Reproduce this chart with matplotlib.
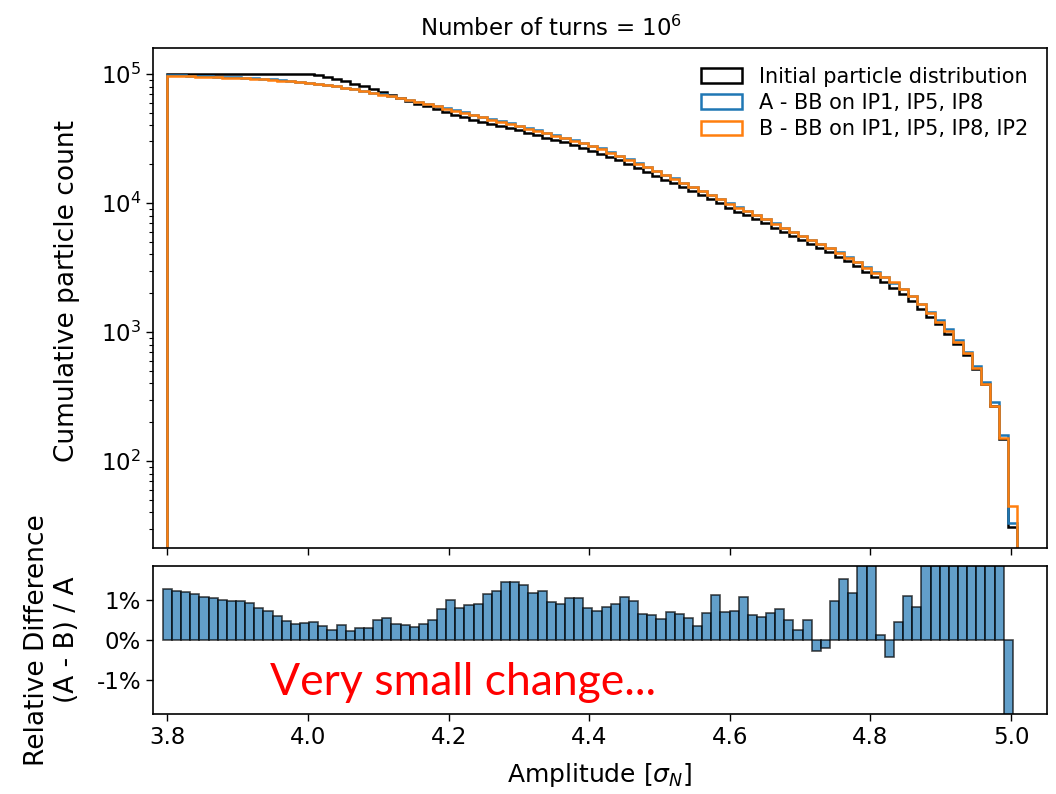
import matplotlib
matplotlib.use('Agg')
import matplotlib.pyplot as plt
import numpy as np
from matplotlib.ticker import FuncFormatter, MultipleLocator

# Amplitude binning [sigma_N]
amp_start = 3.8
bin_width = 0.013
n_bins = 93

# Cumulative particle count above the lower edge of each bin
initial_counts = [
    100000, 100000, 100000, 100000, 100000, 100000, 100000, 100000, 100000, 100000,
    100000, 100000, 100000, 100000, 100000, 100000, 97500, 94800, 91800, 88300,
    84400, 80300, 76400, 72700, 69100, 65700, 62100, 59000, 56100, 53300,
    50600, 48200, 46100, 44400, 42800, 41100, 39500, 38000, 36500, 35000,
    33600, 32200, 30800, 29500, 28200, 26800, 25500, 24200, 22700, 21400,
    20000, 18700, 17500, 16300, 15200, 14200, 13300, 12400, 11600, 10800,
    9960, 9200, 8580, 8060, 7500, 6990, 6460, 5980, 5560, 5180,
    4810, 4480, 4140, 3850, 3550, 3260, 2940, 2690, 2450, 2210,
    1970, 1740, 1520, 1320, 1150, 970, 810, 670, 520, 396,
    265, 148, 31,
]
counts_a = [
    97700, 97400, 97000, 96500, 96000, 95500, 94800, 94100, 93400, 92600,
    91800, 90700, 89500, 88400, 87200, 85800, 84400, 82900, 80700, 78600,
    76400, 74100, 71900, 69600, 67400, 65200, 63000, 60700, 58500, 56400,
    54300, 52300, 50400, 48500, 46800, 44900, 43200, 41500, 39900, 38300,
    36700, 35200, 33700, 32200, 30800, 29300, 27900, 26500, 24800, 23300,
    21900, 20400, 19100, 17800, 16600, 15500, 14400, 13400, 12500, 11600,
    10800, 9960, 9280, 8700, 8100, 7540, 6970, 6460, 6010, 5600,
    5180, 4830, 4460, 4150, 3830, 3520, 3220, 2940, 2690, 2420,
    2160, 1910, 1660, 1440, 1240, 1050, 870, 706, 547, 413,
    289, 158, 33,
]
# (A - B) / A per bin, in percent
rel_diff = [
    1.28, 1.23, 1.19, 1.14, 1.08, 1.04, 1.00, 0.97, 0.97, 0.93,
    0.81, 0.72, 0.60, 0.47, 0.40, 0.43, 0.46, 0.35, 0.26, 0.38,
    0.22, 0.31, 0.31, 0.49, 0.54, 0.41, 0.38, 0.33, 0.40, 0.49,
    0.78, 0.99, 0.81, 0.87, 0.91, 1.14, 1.23, 1.45, 1.45, 1.38,
    1.18, 1.23, 0.95, 0.91, 1.04, 1.04, 0.81, 0.72, 0.82, 0.91,
    1.08, 0.97, 0.64, 0.62, 0.53, 0.70, 0.64, 0.54, 0.34, 0.68,
    1.12, 0.71, 0.72, 1.08, 0.63, 0.58, 0.67, 0.77, 0.50, 0.26,
    0.50, -0.28, -0.21, 0.97, 1.53, 1.18, 2.2, 2.0, 0.13, -0.43,
    0.45, 1.09, 0.82, 2.5, 3.0, 2.5, 3.5, 3.0, 4.0, 4.5,
    6.9, 5.0, -36.0,
]

edges = amp_start + bin_width * np.arange(n_bins + 1)
counts_a = np.array(counts_a, dtype=float)
rel_diff = np.array(rel_diff)
counts_b = counts_a * (1 - rel_diff / 100)

fs = 16.5
fig = plt.figure(figsize=(10.56, 7.94), dpi=100)
ax1 = fig.add_axes([0.1449, 0.3098, 0.8466, 0.6297])
ax2 = fig.add_axes([0.1449, 0.1008, 0.8466, 0.1864], sharex=ax1)

# cumulative distributions
ax1.hist(edges[:-1], bins=edges, weights=initial_counts, histtype='step',
         color='k', lw=1.8, log=True, label='Initial particle distribution')
ax1.hist(edges[:-1], bins=edges, weights=counts_a, histtype='step',
         color='C0', lw=1.8, log=True, label='A - BB on IP1, IP5, IP8')
ax1.hist(edges[:-1], bins=edges, weights=counts_b, histtype='step',
         color='C1', lw=1.8, log=True, label='B - BB on IP1, IP5, IP8, IP2')
ax1.set_ylim(21.2, 1.59e5)
ax1.set_xlim(3.7794, 5.0512)
ax1.set_ylabel('Cumulative particle count', fontsize=19)
ax1.set_title('Number of turns = $10^6$', fontsize=16.5, x=0.445, pad=9)
ax1.legend(loc='upper right', frameon=False, fontsize=15, labelspacing=0.3)
ax1.tick_params(labelbottom=False)

# relative difference between A and B
ax2.bar(edges[:-1], rel_diff, width=bin_width, color='C0', alpha=0.7,
        edgecolor='k', lw=1.2)
ax2.set_ylim(-1.85, 1.85)
ax2.yaxis.set_major_locator(MultipleLocator(1))
ax2.yaxis.set_major_formatter(FuncFormatter(lambda v, p: f'{v:.0f}%'))
ax2.xaxis.set_major_locator(MultipleLocator(0.2))
ax2.set_xlabel(r'Amplitude [$\sigma_N$]', fontsize=18, labelpad=9)
ax2.set_ylabel('Relative Difference\n(A - B) / A', fontsize=19)
ax2.text(3.946, -1.06, 'Very small change...', color='red', fontsize=32,
         family='Lato', ha='left', va='center')

for ax in (ax1, ax2):
    ax.tick_params(labelsize=fs, length=5, width=1)
    ax.tick_params(which='minor', length=3, width=0.8)
    for s in ax.spines.values():
        s.set_linewidth(1.2)
ax1.yaxis.set_label_coords(-0.082, 0.515)
ax2.yaxis.set_label_coords(-0.082, 0.5)

fig.savefig('out.png', dpi=100)
